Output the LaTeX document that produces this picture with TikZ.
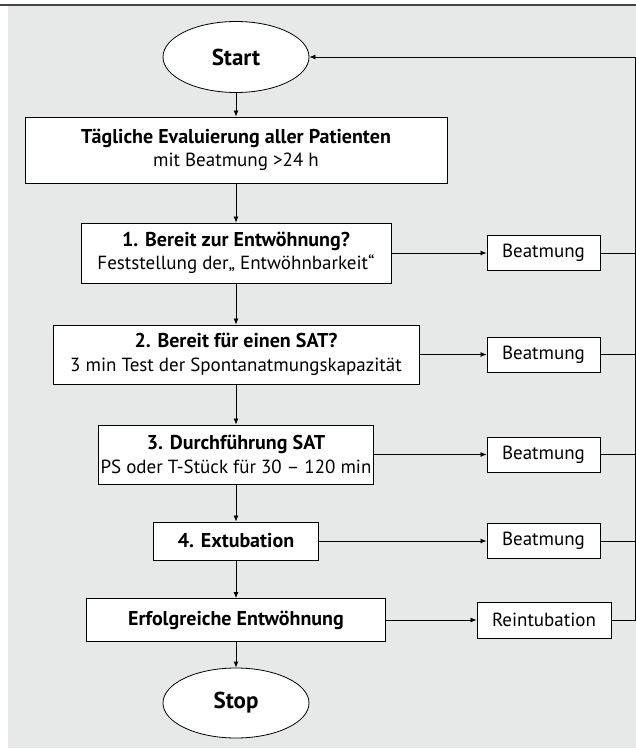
\documentclass[tikz,border=0pt]{standalone}
\usepackage{fontspec}
\setmainfont{PT Sans}
\usepackage{xcolor}
\usetikzlibrary{positioning,shapes.geometric,arrows.meta}
\definecolor{panel}{HTML}{E7E8E8}
\definecolor{topline}{HTML}{454545}
\newcommand{\headline}[1]{{\fontsize{20}{23.5}\selectfont\bfseries #1}}
\tikzstyle{terminal} = [draw, ellipse, fill=white, line width=0.8pt, inner sep=0pt, minimum width=146pt, minimum height=71pt, font=\fontsize{23}{27}\selectfont\bfseries]
\tikzstyle{stage} = [draw, rectangle, fill=white, line width=0.9pt, inner sep=0pt, align=center, font=\fontsize{19}{23.5}\selectfont]
\tikzstyle{fallback} = [stage, minimum width=113pt, minimum height=35pt]
\tikzstyle{flow} = [-{Latex[length=6pt,width=5pt]}, line width=0.8pt]
\tikzstyle{back} = [line width=0.8pt]

\begin{document}
\begin{tikzpicture}[x=1pt,y=-1pt]
			\useasboundingbox (0,0) rectangle (636,749);
			\fill[panel] (8,6) rectangle (636,748);
			\draw[topline, line width=2pt] (0,5) -- (636,5);
			\node[terminal] (start) at (236,57) {Start};
			\node[stage, minimum width=422pt, minimum height=66pt] (eval) at (236,150) {\headline{Tägliche Evaluierung aller Patienten}\\mit Beatmung >24 h};
			\node[stage, minimum width=310pt, minimum height=60pt] (ready) at (236,253) {\headline{1. Bereit zur Entwöhnung?}\\Feststellung der„ Entwöhnbarkeit“};
			\node[stage, minimum width=366pt, minimum height=59pt] (sat) at (236,354.5) {\headline{2. Bereit für einen SAT?}\\3 min Test der Spontanatmungskapazität};
			\node[stage, minimum width=275pt, minimum height=59pt] (trial) at (236,454.5) {\headline{3. Durchführung SAT}\\PS oder T-Stück für 30 – 120 min};
			\node[stage, minimum width=165pt, minimum height=38pt] (extub) at (236,541) {\headline{4. Extubation}};
			\node[stage, minimum width=299pt, minimum height=43pt] (success) at (236,620) {\headline{Erfolgreiche Entwöhnung}};
			\node[terminal, minimum height=70pt] (stop) at (236,703) {Stop};
			\node[fallback] (vent1) at (543.5,253) {Beatmung};
			\node[fallback] (vent2) at (543.5,354.5) {Beatmung};
			\node[fallback] (vent3) at (543.5,454.5) {Beatmung};
			\node[fallback] (vent4) at (543.5,541) {Beatmung};
			\node[fallback, minimum width=134pt, minimum height=36pt] (reint) at (544,620) {Reintubation};
			\coordinate (loop) at (635,57);
			\draw[flow] (start) -- (eval);
			\draw[flow] (eval) -- (ready);
			\draw[flow] (ready) -- (sat);
			\draw[flow] (sat) -- (trial);
			\draw[flow] (trial) -- (extub);
			\draw[flow] (extub) -- (success);
			\draw[flow] (success) -- (stop);
			\draw[flow] (ready) -- (vent1);
			\draw[flow] (sat) -- (vent2);
			\draw[flow] (trial) -- (vent3);
			\draw[flow] (extub) -- (vent4);
			\draw[flow] (success) -- (reint);
			\foreach \v in {vent1,vent2,vent3,vent4}
				\draw[back] (\v.east) -- (\v.east -| loop);
			\draw[flow] (reint.east) -- (reint.east -| loop) -- (loop) -- (start.east);
		\end{tikzpicture}
\end{document}
